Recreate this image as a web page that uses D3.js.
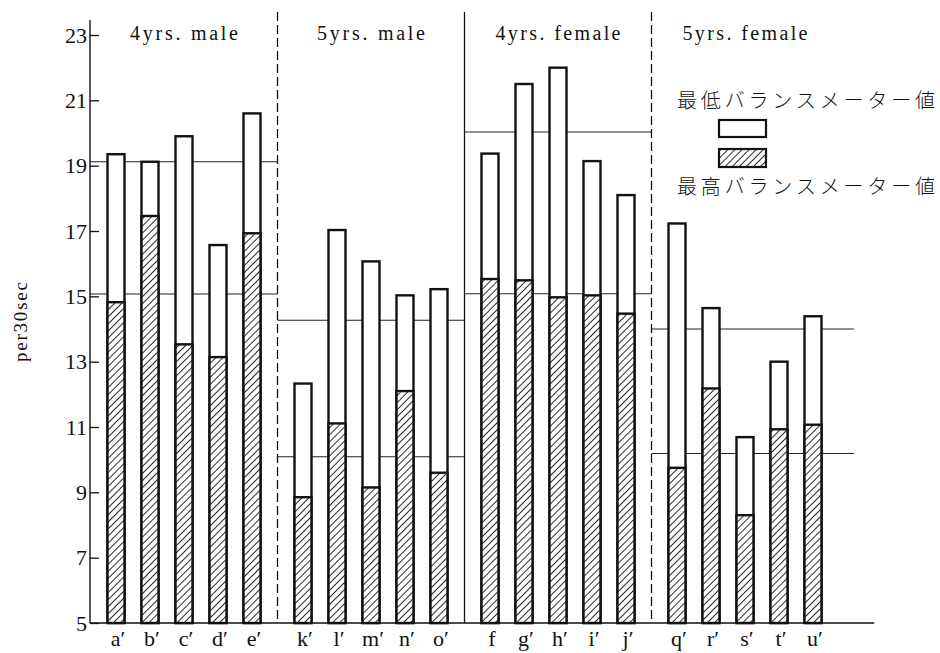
<!DOCTYPE html>
<html>
<head>
<meta charset="utf-8">
<script src="https://cdn.jsdelivr.net/npm/d3@7"></script>
<style>
  body { margin: 0; background: #fff; }
  svg text { fill: #111; }
</style>
</head>
<body>
<svg id="chart" width="940" height="653"></svg>
<script>
const categories = ['a′', 'b′', 'c′', 'd′', 'e′', 'k′', 'l′', 'm′', 'n′', 'o′', 'f', 'g′', 'h′', 'i′', 'j′', 'q′', 'r′', 's′', 't′', 'u′'];
const groupNames = ['4yrs. male', '5yrs. male', '4yrs. female', '5yrs. female'];
// 最低バランスメーター値 (white, bar top)
const lowestMeter = [19.35, 19.12, 19.9, 16.57, 20.6, 12.33, 17.03, 16.07, 15.03, 15.22, 19.37, 21.5, 22.0, 19.14, 18.1, 17.23, 14.64, 10.69, 13.0, 14.39];
// 最高バランスメーター値 (hatched)
const highestMeter = [14.82, 17.46, 13.53, 13.14, 16.93, 8.85, 11.11, 9.15, 12.1, 9.6, 15.53, 15.49, 14.97, 15.03, 14.47, 9.75, 12.18, 8.3, 10.93, 11.07];
// horizontal reference lines per group
const refUpper = [19.12, 14.27, 20.03, 14.0];
const refLower = [15.07, 10.09, 15.08, 10.19];
const yTicks = [5, 7, 9, 11, 13, 15, 17, 19, 21, 23];
const legendLabels = ['最低バランスメーター値', '最高バランスメーター値'];

const serif = '"Liberation Serif", "DejaVu Serif", serif';
const jp = '"Noto Sans CJK JP", sans-serif';

const svg = d3.select('#chart');

// bar slot: index plus half a slot of gap per group
const slot = i => i + 0.5 * Math.floor(i / 5);

const x = d3.scaleLinear().domain([0, 20.5]).range([116, 813]);
const y = d3.scaleLinear().domain([5, 23]).range([623, 35]);

const axisLeftX = 90;
const axisRightX = x(22.3);
const barW = 17;

const defs = svg.append('defs');
const pat = defs.append('pattern')
    .attr('id', 'hatch')
    .attr('patternUnits', 'userSpaceOnUse')
    .attr('width', 5)
    .attr('height', 5)
    .attr('patternTransform', 'rotate(45)');
pat.append('rect').attr('width', 5).attr('height', 5).attr('fill', '#fff');
pat.append('line')
    .attr('x1', 0).attr('y1', 0).attr('x2', 0).attr('y2', 5)
    .attr('stroke', '#111').attr('stroke-width', 1.8);

// group separators
const seps = [0, 1, 2].map(g => x(5.5 * g + 4.75));
svg.append('g').selectAll('line')
    .data(seps)
    .enter()
    .append('line')
    .attr('x1', d => d).attr('x2', d => d)
    .attr('y1', 12).attr('y2', y(5))
    .attr('stroke', '#111')
    .attr('stroke-width', 1.3)
    .attr('stroke-dasharray', (d, i) => i === 1 ? null : '9,4');

// reference lines
const groupLeft = [axisLeftX, seps[0], seps[1], seps[2]];
const groupRight = [seps[0], seps[1], seps[2], x(21.7)];
const refs = [];
refUpper.forEach((v, g) => refs.push({ g, v }));
refLower.forEach((v, g) => refs.push({ g, v }));
svg.append('g').selectAll('line')
    .data(refs)
    .enter()
    .append('line')
    .attr('x1', d => groupLeft[d.g])
    .attr('x2', d => groupRight[d.g])
    .attr('y1', d => y(d.v))
    .attr('y2', d => y(d.v))
    .attr('stroke', '#222')
    .attr('stroke-width', 1.1);

// bars
const bars = svg.append('g');
bars.selectAll('rect.low')
    .data(lowestMeter)
    .enter()
    .append('rect')
    .attr('class', 'low')
    .attr('x', (d, i) => x(slot(i)) - barW / 2)
    .attr('y', d => y(d))
    .attr('width', barW)
    .attr('height', d => y(5) - y(d))
    .attr('fill', '#fff')
    .attr('stroke', '#111')
    .attr('stroke-width', 2.4);
bars.selectAll('rect.high')
    .data(highestMeter)
    .enter()
    .append('rect')
    .attr('class', 'high')
    .attr('x', (d, i) => x(slot(i)) - barW / 2)
    .attr('y', d => y(d))
    .attr('width', barW)
    .attr('height', d => y(5) - y(d))
    .attr('fill', 'url(#hatch)')
    .attr('stroke', '#111')
    .attr('stroke-width', 2.4);

// y axis
const yAxis = svg.append('g')
    .attr('transform', `translate(${axisLeftX},0)`)
    .call(d3.axisLeft(y).tickValues(yTicks).tickSize(-9).tickPadding(3));
yAxis.select('.domain').remove();
yAxis.selectAll('.tick line').attr('stroke', '#111').attr('stroke-width', 1.3);
yAxis.selectAll('.tick text')
    .attr('font-family', serif)
    .attr('font-size', 22)
    .attr('fill', '#111');
svg.append('line')
    .attr('x1', axisLeftX).attr('x2', axisLeftX)
    .attr('y1', 20).attr('y2', y(5))
    .attr('stroke', '#111').attr('stroke-width', 1.4);

// x axis
svg.append('line')
    .attr('x1', axisLeftX).attr('x2', axisRightX)
    .attr('y1', y(5)).attr('y2', y(5))
    .attr('stroke', '#111').attr('stroke-width', 1.6);
svg.append('g').selectAll('text')
    .data(categories)
    .enter()
    .append('text')
    .attr('x', (d, i) => x(slot(i)) + 2)
    .attr('y', 646)
    .attr('text-anchor', 'middle')
    .attr('font-family', serif)
    .attr('font-size', 22)
    .text(d => d);

// group titles
const titleLen = [108, 108, 125, 125];
svg.append('g').selectAll('text')
    .data(groupNames)
    .enter()
    .append('text')
    .attr('x', (d, g) => x(5.5 * g + 2) - titleLen[g] / 2)
    .attr('y', 40)
    .attr('textLength', (d, g) => titleLen[g])
    .attr('lengthAdjust', 'spacing')
    .attr('font-family', serif)
    .attr('font-size', 20)
    .text(d => d);

// y label
svg.append('text')
    .attr('transform', 'translate(27,322) rotate(-90)')
    .attr('x', -40)
    .attr('textLength', 80)
    .attr('lengthAdjust', 'spacing')
    .attr('font-family', serif)
    .attr('font-size', 19)
    .text('per30sec');

// legend
const legend = svg.append('g');
legend.append('text')
    .attr('x', 677).attr('y', 108)
    .attr('textLength', 258)
    .attr('lengthAdjust', 'spacing')
    .attr('font-family', jp)
    .attr('font-weight', 300)
    .attr('font-size', 20)
    .text(legendLabels[0]);
legend.append('rect')
    .attr('x', 719).attr('y', 120).attr('width', 47).attr('height', 17)
    .attr('fill', '#fff').attr('stroke', '#111').attr('stroke-width', 2.2);
legend.append('rect')
    .attr('x', 719).attr('y', 149).attr('width', 47).attr('height', 18)
    .attr('fill', 'url(#hatch)').attr('stroke', '#111').attr('stroke-width', 2.2);
legend.append('text')
    .attr('x', 677).attr('y', 194)
    .attr('textLength', 258)
    .attr('lengthAdjust', 'spacing')
    .attr('font-family', jp)
    .attr('font-weight', 300)
    .attr('font-size', 20)
    .text(legendLabels[1]);
</script>
</body>
</html>
